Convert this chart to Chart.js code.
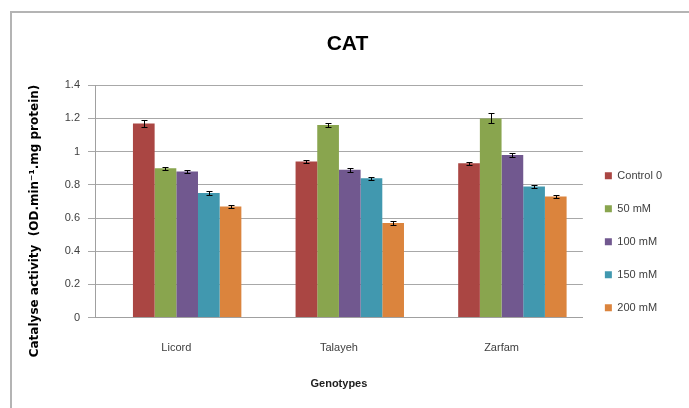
<!DOCTYPE html>
<html>
<head>
<meta charset="utf-8">
<script src="https://cdn.jsdelivr.net/npm/chart.js@4/dist/chart.umd.min.js"></script>
<style>
  html, body { margin: 0; padding: 0; background: #fff; }
  #wrap { width: 689px; height: 408px; position: relative; }
</style>
</head>
<body>
<div id="wrap"><canvas id="cat"></canvas></div>
<script>
const genotypes = ['Licord', 'Talayeh', 'Zarfam'];
const treatments = ['Control 0', '50 mM', '100 mM', '150 mM', '200 mM'];
const control0 = [1.17, 0.94, 0.93];
const mM50 = [0.90, 1.16, 1.20];
const mM100 = [0.88, 0.89, 0.98];
const mM150 = [0.75, 0.84, 0.79];
const mM200 = [0.67, 0.57, 0.73];
// standard errors
const errControl0 = [0.02, 0.01, 0.01];
const errMM50 = [0.01, 0.01, 0.03];
const errMM100 = [0.01, 0.01, 0.01];
const errMM150 = [0.01, 0.01, 0.01];
const errMM200 = [0.01, 0.01, 0.01];
const yTicks = [0, 0.2, 0.4, 0.6, 0.8, 1, 1.2, 1.4];
const yTitle = 'Catalyse activity  (OD.min\u207B\u00B9.mg protein)';

const colors = ['#AA4643', '#89A54E', '#71588F', '#4198AF', '#DB843D'];
const values = [control0, mM50, mM100, mM150, mM200];
const errors = [errControl0, errMM50, errMM100, errMM150, errMM200];

const FONT = "'Liberation Sans', Arial, sans-serif";

// empty first slot: Excel places the group half a bar right of the label
const datasets = [{ label: '', data: genotypes.map(() => null), backgroundColor: 'rgba(0,0,0,0)' }];
treatments.forEach((t, i) => {
  datasets.push({
    label: t,
    data: values[i],
    errors: errors[i],
    backgroundColor: colors[i],
    borderWidth: 0
  });
});

// grey frame of the pasted figure + the y title (sits lower than the axis centre)
const frame = {
  id: 'frame',
  beforeDraw(chart) {
    const ctx = chart.ctx;
    ctx.save();
    ctx.fillStyle = '#b4b4b4';
    ctx.fillRect(10, 11, chart.width - 10, 2);
    ctx.fillRect(10, 11, 2, chart.height - 11);
    ctx.restore();
  },
  afterDraw(chart) {
    const ctx = chart.ctx;
    ctx.save();
    ctx.translate(35, 221);
    ctx.rotate(-Math.PI / 2);
    ctx.fillStyle = '#000';
    ctx.font = "bold 12px 'DejaVu Sans', sans-serif";
    ctx.textAlign = 'center';
    ctx.textBaseline = 'middle';
    ctx.fillText(yTitle, 0, 0);
    ctx.restore();
  }
};

const errorBars = {
  id: 'errorBars',
  afterDatasetsDraw(chart) {
    const ctx = chart.ctx;
    const y = chart.scales.y;
    ctx.save();
    ctx.strokeStyle = '#000';
    ctx.lineWidth = 1;
    chart.data.datasets.forEach((ds, di) => {
      if (!ds.errors) return;
      chart.getDatasetMeta(di).data.forEach((bar, i) => {
        const v = ds.data[i], e = ds.errors[i];
        const x = Math.round(bar.x) + 0.5;
        const y1 = Math.round(y.getPixelForValue(v + e)) + 0.5;
        const y2 = Math.round(y.getPixelForValue(v - e)) + 0.5;
        ctx.beginPath();
        ctx.moveTo(x, y1); ctx.lineTo(x, y2);
        ctx.moveTo(x - 3, y1); ctx.lineTo(x + 3, y1);
        ctx.moveTo(x - 3, y2); ctx.lineTo(x + 3, y2);
        ctx.stroke();
      });
    });
    ctx.restore();
  }
};

new Chart(document.getElementById('cat'), {
  type: 'bar',
  data: { labels: genotypes, datasets: datasets },
  options: {
    responsive: true,
    maintainAspectRatio: false,
    animation: false,
    layout: { padding: { left: 23, right: 17, top: 0, bottom: 17 } },
    datasets: { bar: { categoryPercentage: 0.8, barPercentage: 1.0 } },
    plugins: {
      title: {
        display: true,
        text: 'CAT',
        color: '#000',
        font: { family: FONT, size: 21, weight: 'bold' },
        padding: { top: 32, bottom: 28 }
      },
      legend: {
        position: 'right',
        align: 'start',
        title: { display: true, text: ' ', padding: { top: 135, bottom: 0 }, font: { size: 11 } },
        labels: {
          filter: (item) => item.text !== '',
          color: '#404040',
          font: { family: FONT, size: 11 },
          boxWidth: 7,
          boxHeight: 7,
          padding: 22
        }
      },
      tooltip: { enabled: false }
    },
    scales: {
      x: {
        grid: { display: false },
        border: { display: true, color: '#a0a0a0', width: 1 },
        ticks: { color: '#404040', font: { family: FONT, size: 11 }, padding: 16 },
        title: {
          display: true,
          text: 'Genotypes',
          color: '#202020',
          font: { family: FONT, size: 11, weight: 'bold' },
          padding: { top: 7, bottom: 0 }
        }
      },
      y: {
        min: 0,
        max: 1.4,
        afterBuildTicks(scale) { scale.ticks = yTicks.map(v => ({ value: v })); },
        afterFit(scale) { scale.width = 72; },
        grid: { color: '#a8a8a8', lineWidth: 1, tickLength: 7, drawTicks: true },
        border: { display: true, color: '#a0a0a0', width: 1 },
        ticks: {
          color: '#404040',
          font: { family: FONT, size: 11 },
          padding: 8,
          callback: (v) => String(v)
        }
      }
    }
  },
  plugins: [frame, errorBars]
});
</script>
</body>
</html>
